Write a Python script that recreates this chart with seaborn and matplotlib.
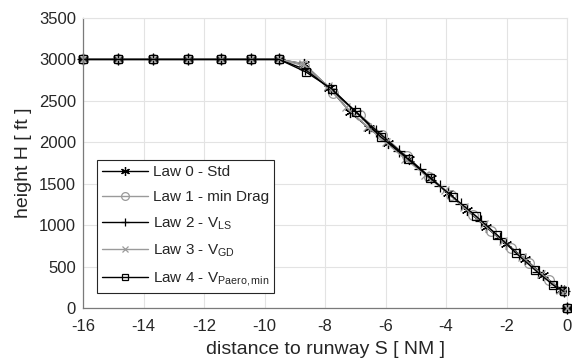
import numpy as np
import pandas as pd
import matplotlib
matplotlib.use("Agg")
import matplotlib.pyplot as plt
import seaborn as sns

# ---- data -------------------------------------------------------------
flat_x = [-16.0, -14.84, -13.69, -12.53, -11.44, -10.45, -9.52]
flat_y = [3000, 3000, 3000, 3000, 3000, 3000, 3000]

law0_x = [-8.69, -7.87, -7.17, -6.55, -5.92, -5.22, -4.50, -3.93, -3.31, -2.68, -2.02, -1.39, -0.79, -0.20, -0.10]
law0_y = [2945, 2660, 2366, 2172, 1991, 1798, 1569, 1388, 1183, 978, 772, 591, 398, 217, 200]

law1_x = [-8.70, -7.74, -6.84, -6.10, -5.30, -4.55, -3.85, -3.10, -2.50, -1.85, -1.25, -0.60, -0.10]
law1_y = [2925, 2595, 2329, 2090, 1830, 1585, 1360, 1125, 935, 730, 540, 335, 200]

law2_x = [-8.66, -7.80, -7.00, -6.30, -5.55, -4.85, -4.20, -3.50, -2.85, -2.20, -1.60, -0.95, -0.35, -0.10]
law2_y = [2880, 2640, 2375, 2140, 1900, 1680, 1470, 1250, 1045, 840, 650, 440, 250, 200]

law3_x = [-8.72, -7.90, -7.30, -6.60, -6.00, -5.35, -4.70, -4.05, -3.40, -2.75, -2.12, -1.50, -0.85, -0.22, -0.10]
law3_y = [2950, 2675, 2420, 2190, 2000, 1800, 1610, 1420, 1215, 1010, 805, 615, 410, 220, 200]

law4_x = [-8.63, -7.77, -6.98, -6.15, -5.26, -4.53, -3.77, -3.01, -2.31, -1.69, -1.06, -0.46, -0.10]
law4_y = [2848, 2643, 2366, 2064, 1798, 1569, 1340, 1110, 881, 664, 459, 278, 200]

touchdown_x = [0.0]
touchdown_y = [0.0]

labels = ["Law 0 - Std",
          "Law 1 - min Drag",
          r"Law 2 - V$_{\mathregular{LS}}$",
          r"Law 3 - V$_{\mathregular{GD}}$",
          r"Law 4 - V$_{\mathregular{Paero,min}}$"]

xticks = [-16, -14, -12, -10, -8, -6, -4, -2, 0]
yticks = [0, 500, 1000, 1500, 2000, 2500, 3000, 3500]

# ---- style ------------------------------------------------------------
sns.set_theme(style="white")
plt.rcParams["font.family"] = ["Liberation Sans", "DejaVu Sans"]
plt.rcParams["mathtext.fontset"] = "custom"
plt.rcParams["mathtext.rm"] = "Liberation Sans"
plt.rcParams["mathtext.it"] = "Liberation Sans"
text_col = "#262626"

fig = plt.figure(figsize=(5.72, 3.62), dpi=100)
ax = fig.add_axes([0.1451, 0.1492, 0.8462, 0.8011])

asterisk = (6, 2, 0)
series = [
    (law0_x, law0_y, "#000000", asterisk, "#000000", "#000000", 8),
    (law1_x, law1_y, "#9a9a9a", "o", "none", "#9a9a9a", 7),
    (law2_x, law2_y, "#000000", "+", "#000000", "#000000", 8),
    (law3_x, law3_y, "#9a9a9a", "x", "#9a9a9a", "#9a9a9a", 6),
    (law4_x, law4_y, "#000000", "s", "none", "#000000", 6),
]

for (sx, sy, col, mk, mfc, mec, ms), lab in zip(series, labels):
    df = pd.DataFrame({"S": flat_x + sx, "H": flat_y + sy})
    sns.lineplot(data=df, x="S", y="H", ax=ax, sort=False, estimator=None,
                 color=col, lw=1.0, marker=mk, markersize=ms,
                 markerfacecolor=mfc, markeredgecolor=mec, markeredgewidth=0.9,
                 label=lab, clip_on=False)
    td = pd.DataFrame({"S": touchdown_x, "H": touchdown_y})
    sns.lineplot(data=td, x="S", y="H", ax=ax, estimator=None, color=col,
                 lw=0, marker=mk, markersize=ms, markerfacecolor=mfc,
                 markeredgecolor=mec, markeredgewidth=0.9, legend=False,
                 clip_on=False, zorder=5)

ax.set_xlim(-16, 0)
ax.set_ylim(0, 3500)
ax.set_xticks(xticks)
ax.set_yticks(yticks)
ax.set_xticklabels([str(t) for t in xticks])
ax.set_yticklabels([str(t) for t in yticks])
ax.grid(True, color="#e3e3e3", lw=0.8)
ax.set_axisbelow(True)
for side in ["top", "right"]:
    ax.spines[side].set_color("#e3e3e3")
    ax.spines[side].set_linewidth(0.8)
for side in ["left", "bottom"]:
    ax.spines[side].set_color("#7a7a7a")
    ax.spines[side].set_linewidth(0.9)
ax.tick_params(axis="both", direction="in", length=4, width=0.8,
               color="#7a7a7a", labelsize=12, labelcolor=text_col)
ax.tick_params(axis="x", pad=8)
ax.tick_params(axis="y", length=0, pad=5)
ax.set_xlabel("distance to runway S [ NM ]", fontsize=14, color=text_col, labelpad=5)
ax.set_ylabel("height H [ ft ]", fontsize=14, color=text_col, labelpad=5)

leg = ax.legend(loc="lower left", bbox_to_anchor=(0.029, 0.05), fontsize=11,
                frameon=True, fancybox=False, edgecolor=text_col,
                handlelength=3.0, handletextpad=0.3, labelspacing=0.72,
                borderpad=0.35, borderaxespad=0, markerscale=0.8)
leg.get_frame().set_linewidth(0.8)
leg.get_frame().set_facecolor("white")
leg.get_frame().set_alpha(1.0)
for t in leg.get_texts():
    t.set_color(text_col)

fig.savefig("out.png", dpi=100)
